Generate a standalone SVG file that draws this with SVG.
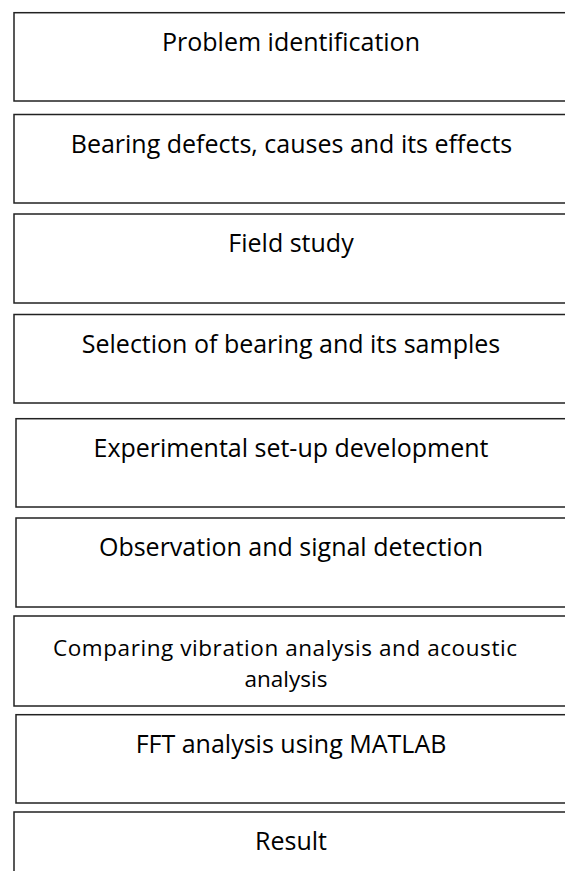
<svg xmlns="http://www.w3.org/2000/svg" width="565" height="871" viewBox="0 0 565 871">
<style>
.box{fill:#fff;stroke:#222;stroke-width:1.5}
.lbl{font-family:"Open Sans","Liberation Sans",sans-serif;font-size:25px;fill:#000;text-anchor:middle}
.sm{font-size:22.5px}
</style>
<rect width="565" height="871" fill="#fff"/>
<g id="n1"><rect class="box" x="14" y="12.7" width="570" height="88.3"/><text class="lbl" x="291" y="51">Problem identification</text></g>
<g id="n2"><rect class="box" x="14" y="114.5" width="570" height="88.5"/><text class="lbl" x="291.5" y="152.5">Bearing defects, causes and its effects</text></g>
<g id="n3"><rect class="box" x="14" y="214" width="570" height="89"/><text class="lbl" x="291" y="252">Field study</text></g>
<g id="n4"><rect class="box" x="14" y="314.5" width="570" height="88.5"/><text class="lbl" x="291" y="352.5">Selection of bearing and its samples</text></g>
<g id="n5"><rect class="box" x="16" y="418.7" width="570" height="88.3"/><text class="lbl" x="291" y="456.7">Experimental set-up development</text></g>
<g id="n6"><rect class="box" x="16" y="518" width="570" height="89"/><text class="lbl" x="291" y="556">Observation and signal detection</text></g>
<g id="n7"><rect class="box" x="14" y="616" width="570" height="90"/><text class="lbl sm" x="285" y="655.5" textLength="464" lengthAdjust="spacing">Comparing vibration analysis and acoustic</text><text class="lbl sm" x="286" y="686.5">analysis</text></g>
<g id="n8"><rect class="box" x="16" y="714.7" width="570" height="88.3"/><text class="lbl" x="291" y="752.7">FFT analysis using MATLAB</text></g>
<g id="n9"><rect class="box" x="14" y="812" width="570" height="90"/><text class="lbl" x="291" y="850">Result</text></g>
<g id="connectors"/>
</svg>
